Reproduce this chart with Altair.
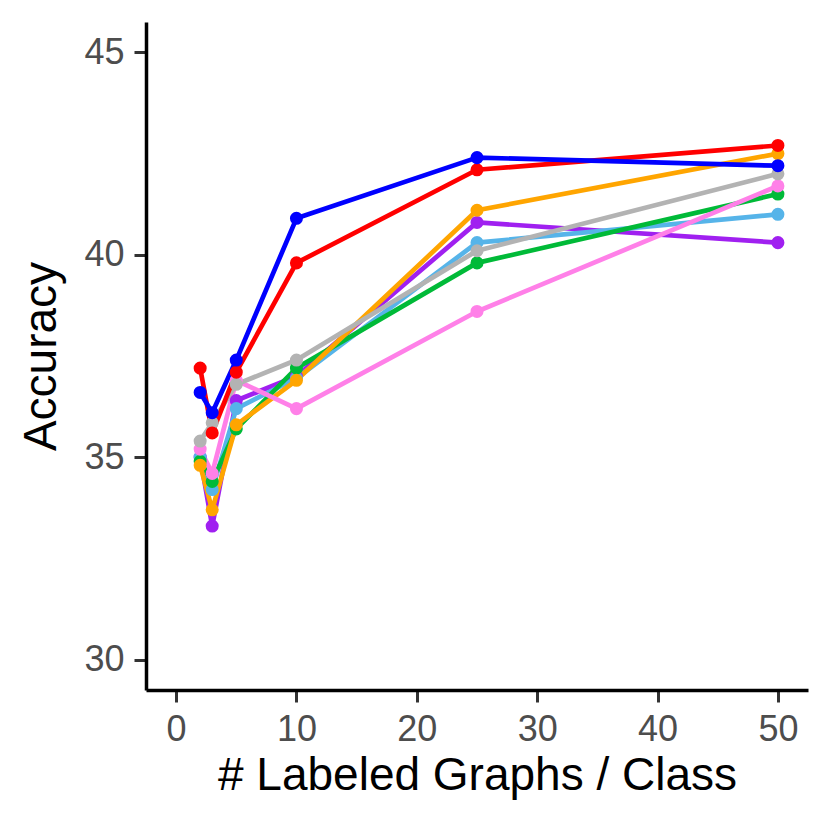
import altair as alt
import pandas as pd

# x positions (# labeled graphs per class)
x_vals = [2, 3, 5, 10, 25, 50]

# series (accuracy values)
series_names = ["S1", "S2", "S3", "S4", "S5", "S6", "S7", "S8"]
purple_vals = [35.0, 33.3, 36.4, 37.0, 40.8, 40.3]
lightblue_vals = [35.0, 34.2, 36.2, 36.95, 40.3, 41.0]
green_vals = [34.9, 34.4, 35.7, 37.2, 39.8, 41.5]
orange_vals = [34.8, 33.7, 35.8, 36.9, 41.1, 42.5]
pink_vals = [35.2, 34.6, 36.9, 36.2, 38.6, 41.7]
grey_vals = [35.4, 35.85, 36.8, 37.4, 40.1, 42.0]
red_vals = [37.2, 35.6, 37.1, 39.8, 42.1, 42.7]
blue_vals = [36.6, 36.1, 37.4, 40.9, 42.4, 42.2]

series_colors = ["#A020F0", "#56B4E9", "#00BA38", "#FFA500",
                 "#FF80E8", "#B3B3B3", "#FF0000", "#0000FF"]
all_vals = [purple_vals, lightblue_vals, green_vals, orange_vals,
            pink_vals, grey_vals, red_vals, blue_vals]

rows = []
for i, (name, vals) in enumerate(zip(series_names, all_vals)):
    for xv, yv in zip(x_vals, vals):
        rows.append({"series": name, "order": i, "x": xv, "acc": yv})
df = pd.DataFrame(rows)

x_enc = alt.X("x:Q",
              scale=alt.Scale(domain=[-2.5, 52.5], nice=False, zero=False),
              axis=alt.Axis(values=[0, 10, 20, 30, 40, 50],
                            title="# Labeled Graphs / Class"))
y_enc = alt.Y("acc:Q",
              scale=alt.Scale(domain=[29.25, 45.75], nice=False, zero=False),
              axis=alt.Axis(values=[30, 35, 40, 45], title="Accuracy"))
color_enc = alt.Color("series:N",
                      scale=alt.Scale(domain=series_names, range=series_colors),
                      legend=None)

base = alt.Chart(df)
lines = base.mark_line(strokeWidth=4.7, strokeJoin="round").encode(
    x=x_enc, y=y_enc, color=color_enc, detail="series:N",
    order=alt.Order("x:Q"))
points = base.mark_circle(size=170, opacity=1).encode(
    x=x_enc, y=y_enc, color=color_enc, order=alt.Order("order:Q"))

chart = alt.layer(lines, points).properties(
    width=662, height=668,
    autosize="none",
    padding={"left": 138, "top": 14, "right": 10, "bottom": 120},
).configure_view(stroke=None).configure_axis(
    grid=False,
    domainColor="black", domainWidth=3.5,
    tickColor="#333333", tickWidth=3, tickSize=12,
    labelFont="Liberation Sans", labelFontSize=36, labelColor="#4D4D4D",
    labelPadding=10,
    titleFont="Liberation Sans", titleFontSize=46, titleFontWeight="normal",
    titleColor="black",
).configure_axisX(titlePadding=6).configure_axisY(titlePadding=18)

chart.save("out.html", embed_options={"renderer": "svg", "actions": False})
